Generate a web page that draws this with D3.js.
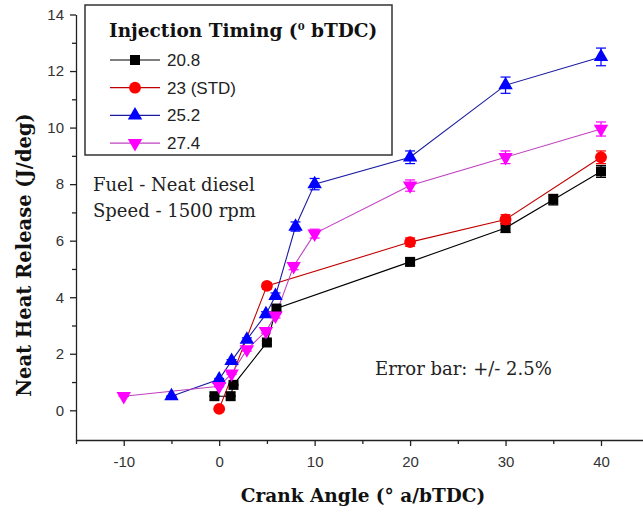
<!DOCTYPE html>
<html>
<head>
<meta charset="utf-8">
<script src="https://cdn.jsdelivr.net/npm/d3@7"></script>
<style>
  body { margin: 0; background: #fff; }
  svg { display: block; }
</style>
</head>
<body>
<div id="chart"></div>
<script>
// Neat heat release vs crank angle, four injection timings

const seriesNames = ["20.8", "23 (STD)", "25.2", "27.4"];
const seriesColors = ["#000000", "#ff0000", "#0000ff", "#ff00ff"];
const lineColors = ["#000000", "#c00000", "#1a1aa0", "#c040c0"];
const seriesShapes = ["square", "circle", "triangle", "triangleDown"];

const angle208 = [-0.5, 1.2, 1.5, 5, 6, 20, 30, 35, 40];
const hrr208   = [0.5, 0.5, 0.9, 2.4, 3.6, 5.25, 6.45, 7.45, 8.45];

const angle23 = [0, 5, 20, 30, 40];
const hrr23   = [0.05, 4.4, 5.95, 6.75, 8.95];

const angle252 = [-5, 0, 1.3, 2.9, 4.9, 5.9, 8, 10, 20, 30, 40];
const hrr252   = [0.5, 1.1, 1.75, 2.5, 3.4, 4.05, 6.5, 8.0, 8.95, 11.5, 12.5];

const angle274 = [-10, 0, 1.3, 2.9, 4.9, 5.9, 7.8, 10, 20, 30, 40];
const hrr274   = [0.5, 0.85, 1.3, 2.15, 2.8, 3.35, 5.1, 6.25, 7.95, 8.95, 9.95];

const xTicks = [-10, 0, 10, 20, 30, 40];
const yTicks = [0, 2, 4, 6, 8, 10, 12, 14];
const errorPct = 0.025;

const serif = "DejaVu Serif, serif";
const sans = "Liberation Sans, Arial, sans-serif";

const W = 643, H = 515;
const svg = d3.select("#chart").append("svg")
    .attr("width", W).attr("height", H);

const x = d3.scaleLinear().domain([-15, 44.4]).range([76, 643]);
const y = d3.scaleLinear().domain([-1.05, 14]).range([440, 14.5]);

// Axes
svg.append("g")
    .attr("transform", `translate(0,${y(-1.05)})`)
    .call(d3.axisBottom(x).tickValues(xTicks).tickFormat(d => String(d))
        .tickSize(6).tickSizeOuter(0).tickPadding(10));
svg.append("g")
    .attr("transform", `translate(0,${y(-1.05)})`)
    .call(d3.axisBottom(x).tickValues([-15, -5, 5, 15, 25, 35]).tickSize(4).tickFormat("").tickSizeOuter(0))
    .select(".domain").remove();

svg.append("g")
    .attr("transform", `translate(${x(-15)},0)`)
    .call(d3.axisLeft(y).tickValues(yTicks).tickSize(6).tickSizeOuter(0).tickPadding(6));
svg.append("g")
    .attr("transform", `translate(${x(-15)},0)`)
    .call(d3.axisLeft(y).tickValues([1, 3, 5, 7, 9, 11, 13]).tickSize(4).tickFormat("").tickSizeOuter(0))
    .select(".domain").remove();

svg.selectAll(".tick text")
    .style("font-family", sans)
    .style("font-size", "15px")
    .style("fill", "#333");
svg.selectAll(".domain, .tick line").attr("stroke", "#222").attr("stroke-width", 1.3);

// Axis titles
svg.append("text")
    .attr("transform", "translate(31,255) rotate(-90)")
    .attr("text-anchor", "middle")
    .style("font-family", serif)
    .style("font-weight", "bold")
    .style("font-size", "19.5px")
    .style("fill", "#111")
    .text("Neat Heat Release (J/deg)");

svg.append("text")
    .attr("x", 363).attr("y", 502)
    .attr("text-anchor", "middle")
    .style("font-family", serif)
    .style("font-weight", "bold")
    .style("font-size", "18.5px")
    .style("fill", "#111")
    .text("Crank Angle (° a/bTDC)");

// Series
const data = [
    angle208.map((a, i) => ({a, v: hrr208[i]})),
    angle23.map((a, i) => ({a, v: hrr23[i]})),
    angle252.map((a, i) => ({a, v: hrr252[i]})),
    angle274.map((a, i) => ({a, v: hrr274[i]}))
];

const symbolType = {
    square: d3.symbolSquare,
    circle: d3.symbolCircle,
    triangle: d3.symbolTriangle,
    triangleDown: d3.symbolTriangle
};
const symbolSize = { square: 100, circle: 110, triangle: 90, triangleDown: 90 };

function marker(g, shape, color) {
    g.append("path")
        .attr("d", d3.symbol().type(symbolType[shape]).size(symbolSize[shape])())
        .attr("transform", shape === "triangleDown" ? "rotate(180)" : null)
        .attr("fill", color);
}

const line = d3.line().x(d => x(d.a)).y(d => y(d.v));

data.forEach((pts, s) => {
    svg.append("path")
        .datum(pts)
        .attr("d", line)
        .attr("fill", "none")
        .attr("stroke", lineColors[s])
        .attr("stroke-width", 1.1);
});

data.forEach((pts, s) => {
    // error bars
    const eb = svg.append("g").attr("stroke", seriesColors[s]).attr("stroke-width", 1.2);
    pts.forEach(d => {
        const lo = y(d.v * (1 - errorPct)), hi = y(d.v * (1 + errorPct));
        eb.append("line").attr("x1", x(d.a)).attr("x2", x(d.a)).attr("y1", lo).attr("y2", hi);
        eb.append("line").attr("x1", x(d.a) - 5).attr("x2", x(d.a) + 5).attr("y1", lo).attr("y2", lo);
        eb.append("line").attr("x1", x(d.a) - 5).attr("x2", x(d.a) + 5).attr("y1", hi).attr("y2", hi);
    });
    pts.forEach(d => {
        const g = svg.append("g").attr("transform", `translate(${x(d.a)},${y(d.v)})`);
        marker(g, seriesShapes[s], seriesColors[s]);
    });
});

// Legend
const legend = svg.append("g");
legend.append("rect")
    .attr("x", 85).attr("y", 5).attr("width", 307).attr("height", 150)
    .attr("fill", "#fff").attr("stroke", "#333").attr("stroke-width", 1.5);

const lt = legend.append("text")
    .attr("x", 109).attr("y", 37)
    .style("font-family", serif)
    .style("font-weight", "bold")
    .style("font-size", "18.5px")
    .style("fill", "#111");
lt.append("tspan").text("Injection Timing (");
lt.append("tspan").attr("dy", -7).style("font-size", "10px").text("0");
lt.append("tspan").attr("dy", 7).text(" bTDC)");

seriesNames.forEach((name, i) => {
    const yy = 60 + i * 27.7;
    legend.append("line")
        .attr("x1", 110).attr("x2", 160).attr("y1", yy).attr("y2", yy)
        .attr("stroke", lineColors[i]).attr("stroke-width", 1.2);
    const g = legend.append("g").attr("transform", `translate(135,${yy})`);
    marker(g, seriesShapes[i], seriesColors[i]);
    legend.append("text")
        .attr("x", 167).attr("y", yy + 6)
        .style("font-family", sans)
        .style("font-size", "17px")
        .style("fill", "#222")
        .text(name);
});

// Annotations
const note = svg.append("g")
    .style("font-family", serif)
    .style("font-size", "18px")
    .style("fill", "#222")
    .style("white-space", "pre");
note.append("text").attr("x", 93).attr("y", 191).text("Fuel - Neat diesel");
note.append("text").attr("x", 93).attr("y", 217).text("Speed - 1500 rpm");
note.append("text").attr("x", 375).attr("y", 375).text("Error bar:  +/- 2.5%");
</script>
</body>
</html>
